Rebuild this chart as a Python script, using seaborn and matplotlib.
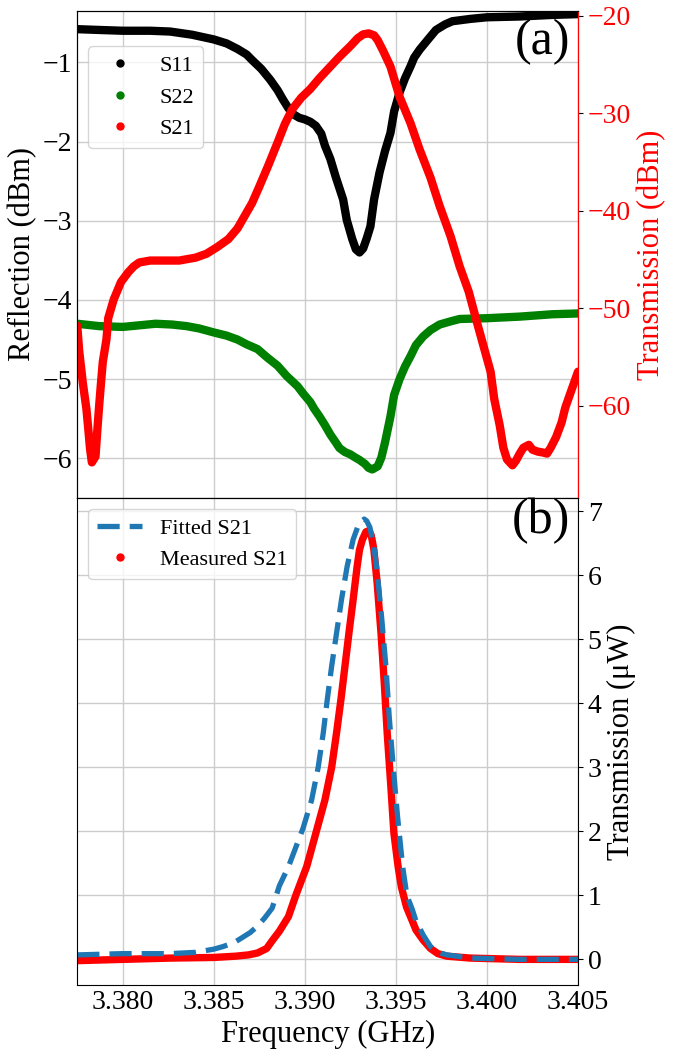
import matplotlib
matplotlib.use("Agg")
import matplotlib.pyplot as plt
from matplotlib.lines import Line2D
import seaborn as sns

# ---- panel (a): reflection / transmission in dBm ----
s11_freq = [3.3775, 3.3787, 3.3800, 3.3815, 3.3826, 3.3838, 3.3850, 3.3857, 3.3863,
            3.3868, 3.3871, 3.3876, 3.3881, 3.3885, 3.3888, 3.3891, 3.3894, 3.3897,
            3.3900, 3.3903, 3.3906, 3.3909, 3.3911, 3.3914, 3.3917, 3.3921, 3.3923,
            3.3926, 3.3928, 3.3930, 3.3932, 3.3934, 3.3936, 3.3938, 3.3941, 3.3944,
            3.3947, 3.3949, 3.3952, 3.3955, 3.3958, 3.3960, 3.3963, 3.3968, 3.3972,
            3.3977, 3.3981, 3.3991, 3.4000, 3.4018, 3.4036, 3.4050]
s11_db = [-0.58, -0.59, -0.60, -0.60, -0.61, -0.65, -0.71, -0.76, -0.83,
          -0.90, -0.97, -1.08, -1.22, -1.35, -1.47, -1.58, -1.66, -1.70,
          -1.72, -1.75, -1.80, -1.90, -2.05, -2.22, -2.45, -2.73, -2.99,
          -3.23, -3.36, -3.40, -3.35, -3.22, -3.07, -2.73, -2.39, -2.12,
          -1.89, -1.62, -1.38, -1.20, -1.05, -0.94, -0.84, -0.70, -0.59,
          -0.52, -0.48, -0.45, -0.43, -0.42, -0.40, -0.39]

s22_freq = [3.3775, 3.3787, 3.3800, 3.3809, 3.3818, 3.3827, 3.3835, 3.3842, 3.3850,
            3.3857, 3.3863, 3.3868, 3.3874, 3.3879, 3.3885, 3.3890, 3.3896, 3.3899,
            3.3903, 3.3905, 3.3908, 3.3911, 3.3914, 3.3917, 3.3919, 3.3922, 3.3925,
            3.3927, 3.3930, 3.3933, 3.3935, 3.3937, 3.3940, 3.3942, 3.3944, 3.3947,
            3.3949, 3.3952, 3.3955, 3.3958, 3.3961, 3.3965, 3.3969, 3.3974, 3.3980,
            3.3985, 3.4000, 3.4018, 3.4036, 3.4050]
s22_db = [-4.30, -4.33, -4.34, -4.32, -4.30, -4.31, -4.33, -4.36, -4.41,
          -4.45, -4.50, -4.56, -4.62, -4.72, -4.83, -4.96, -5.09, -5.18,
          -5.29, -5.37, -5.47, -5.58, -5.70, -5.80, -5.87, -5.92, -5.95,
          -5.98, -6.02, -6.07, -6.12, -6.14, -6.10, -5.99, -5.80, -5.47,
          -5.20, -5.00, -4.84, -4.71, -4.57, -4.46, -4.38, -4.31, -4.27,
          -4.24, -4.23, -4.21, -4.18, -4.17]

s21_freq = [3.3775, 3.3776, 3.3778, 3.3780, 3.3781, 3.3782, 3.3783, 3.3785, 3.3786,
            3.3787, 3.3788, 3.3789, 3.3791, 3.3792, 3.3795, 3.3797, 3.3799, 3.3803,
            3.3806, 3.3809, 3.3815, 3.3823, 3.3831, 3.3840, 3.3846, 3.3852, 3.3858,
            3.3863, 3.3867, 3.3871, 3.3875, 3.3880, 3.3885, 3.3889, 3.3893, 3.3898,
            3.3903, 3.3908, 3.3914, 3.3919, 3.3925, 3.3929, 3.3932, 3.3935, 3.3938,
            3.3940, 3.3943, 3.3947, 3.3952, 3.3958, 3.3963, 3.3969, 3.3974, 3.3980,
            3.3985, 3.3990, 3.3994, 3.3998, 3.4002, 3.4004, 3.4007, 3.4009, 3.4011,
            3.4014, 3.4016, 3.4018, 3.4020, 3.4023, 3.4025, 3.4028, 3.4031, 3.4033,
            3.4035, 3.4038, 3.4041, 3.4043, 3.4046, 3.4050]
s21_db = [-51.8, -54.3, -57.6, -60.3, -62.3, -64.4, -65.8, -65.2, -62.5,
          -60.0, -57.7, -55.5, -53.2, -51.0, -49.1, -48.2, -47.3, -46.3,
          -45.7, -45.3, -45.1, -45.1, -45.1, -44.8, -44.4, -43.7, -42.9,
          -41.8, -40.5, -39.2, -37.5, -35.3, -33.0, -31.1, -29.6, -28.4,
          -27.5, -26.4, -25.2, -24.2, -23.1, -22.3, -21.9, -21.8, -22.0,
          -22.5, -23.6, -25.2, -28.3, -31.0, -33.7, -36.6, -39.5, -42.6,
          -45.7, -48.3, -51.1, -53.8, -56.5, -59.3, -62.0, -64.3, -65.5,
          -66.1, -65.6, -64.9, -64.3, -64.0, -64.5, -64.7, -64.8, -64.9,
          -64.3, -63.2, -61.7, -60.2, -58.6, -56.5]

# ---- panel (b): transmission in microwatt ----
meas_freq = [3.3775, 3.3787, 3.3800, 3.3826, 3.3850, 3.3862, 3.3869, 3.3874, 3.3879,
             3.3882, 3.3886, 3.3891, 3.3895, 3.3901, 3.3906, 3.3911, 3.39147, 3.39174,
             3.39198, 3.3922, 3.39242, 3.39265, 3.39287, 3.3930, 3.39316, 3.39335,
             3.39352, 3.39365, 3.39379, 3.39397, 3.39418, 3.39436, 3.39452, 3.39471,
             3.39489, 3.39512, 3.3953, 3.39558, 3.3959, 3.3961, 3.3965, 3.3969,
             3.3973, 3.3978, 3.3991, 3.4018, 3.4050]
meas_uw = [-0.02, -0.01, 0.00, 0.02, 0.03, 0.05, 0.07, 0.10, 0.17,
           0.29, 0.44, 0.67, 1.00, 1.45, 1.97, 2.49, 3.00, 3.54,
           4.06, 4.58, 5.10, 5.62, 6.14, 6.40, 6.56, 6.68,
           6.70, 6.62, 6.40, 5.88, 5.10, 4.32, 3.54, 2.75,
           1.97, 1.45, 1.13, 0.82, 0.60, 0.46, 0.30, 0.17,
           0.09, 0.05, 0.02, 0.00, 0.00]

fit_freq = [3.3775, 3.3800, 3.3826, 3.3840, 3.3850, 3.3855, 3.3861, 3.3865, 3.3870,
            3.3874, 3.3878, 3.3882, 3.3886, 3.3891, 3.3895, 3.3899, 3.39037, 3.39073,
            3.39101, 3.39123, 3.39147, 3.39174, 3.39201, 3.39232, 3.39265, 3.39298,
            3.39326, 3.3934, 3.39357, 3.39376, 3.39394, 3.39421, 3.39445, 3.39463,
            3.39485, 3.39509, 3.39537, 3.3956, 3.3959, 3.3961, 3.3965, 3.3969,
            3.3973, 3.3978, 3.3991, 3.4018, 3.4050]
fit_uw = [0.07, 0.09, 0.09, 0.11, 0.16, 0.20, 0.26, 0.33, 0.42,
          0.52, 0.65, 0.80, 1.15, 1.45, 1.75, 2.05, 2.49, 3.00,
          3.54, 4.06, 4.58, 5.10, 5.62, 6.14, 6.56, 6.82,
          6.88, 6.85, 6.75, 6.50, 6.14, 5.36, 4.58, 3.80,
          3.01, 2.23, 1.45, 1.00, 0.78, 0.60, 0.38, 0.20,
          0.11, 0.07, 0.02, 0.00, 0.00]

freq_ticks = [3.380, 3.385, 3.390, 3.395, 3.400, 3.405]

plt.rcParams["font.family"] = ["Liberation Serif", "DejaVu Serif"]
plt.rcParams["axes.unicode_minus"] = True
plt.rcParams["grid.color"] = "#cccccc"
plt.rcParams["grid.linewidth"] = 1.0

fig, (ax1, ax3) = plt.subplots(2, 1, figsize=(6.78, 10.53), dpi=100, sharex=True)
fig.subplots_adjust(left=0.114, right=0.8525, top=0.9896, bottom=0.0646, hspace=0)
ax2 = ax1.twinx()

line_kw = dict(linewidth=6.0, solid_capstyle="round", solid_joinstyle="round",
               estimator=None, legend=False)
sns.lineplot(x=s11_freq, y=s11_db, color="black", ax=ax1, **line_kw)
sns.lineplot(x=s22_freq, y=s22_db, color="green", ax=ax1, **line_kw)
sns.lineplot(x=s21_freq, y=s21_db, color="red", ax=ax2, **line_kw)

ax1.set_xlim(3.3775, 3.405)
ax1.set_ylim(-6.50, -0.35)
ax2.set_ylim(-69.45, -19.5)
ax1.set_yticks([-6, -5, -4, -3, -2, -1])
ax2.set_yticks([-60, -50, -40, -30, -20])
ax1.grid(True)
ax1.set_axisbelow(True)
ax1.tick_params(axis="y", length=0, pad=3.5, labelsize=20)
ax1.tick_params(axis="x", length=0, labelbottom=False)
ax2.tick_params(axis="y", labelsize=20, labelcolor="red")
ax2.spines["right"].set_color("red")
ax1.set_ylabel("Reflection (dBm)", fontsize=22)
ax2.set_ylabel("Transmission (dBm)", fontsize=22, color="red")

handles_a = [Line2D([], [], marker="o", linestyle="", markersize=5, color=c)
             for c in ["black", "green", "red"]]
ax2.legend(handles_a, ["S11", "S22", "S21"], loc="upper left",
           bbox_to_anchor=(0.0, 0.95), fontsize=16)
ax2.text(0.985, 0.985, "(a)", transform=ax2.transAxes, ha="right", va="top",
         fontsize=36)

fit_dash = (4.2, 1.9)
sns.lineplot(x=meas_freq, y=meas_uw, color="red", ax=ax3, linewidth=5.3,
             solid_capstyle="round", solid_joinstyle="round", estimator=None,
             legend=False)
sns.lineplot(x=fit_freq, y=fit_uw, color="#1f77b4", ax=ax3, linewidth=3.8,
             linestyle=(0, fit_dash), estimator=None, legend=False)

ax3.set_ylim(-0.40, 7.21)
ax3.set_yticks(range(0, 8))
ax3.yaxis.tick_right()
ax3.yaxis.set_label_position("right")
ax3.set_xticks(freq_ticks)
ax3.set_xticklabels([f"{t:.3f}" for t in freq_ticks])
ax3.grid(True)
ax3.set_axisbelow(True)
ax3.tick_params(axis="x", length=0, pad=3.5, labelsize=20)
ax3.tick_params(axis="y", labelsize=20)
ax3.set_xlabel("Frequency (GHz)", fontsize=22)
ax3.set_ylabel("Transmission (μW)", fontsize=22)

handles_b = [Line2D([], [], color="#1f77b4", linestyle=(0, fit_dash), linewidth=3.8),
             Line2D([], [], marker="o", linestyle="", markersize=5, color="red")]
ax3.legend(handles_b, ["Fitted S21", "Measured S21"], loc="upper left", fontsize=16)
ax3.text(0.985, 1.0, "(b)", transform=ax3.transAxes, ha="right", va="top",
         fontsize=36)

fig.savefig("out.png", dpi=100)
